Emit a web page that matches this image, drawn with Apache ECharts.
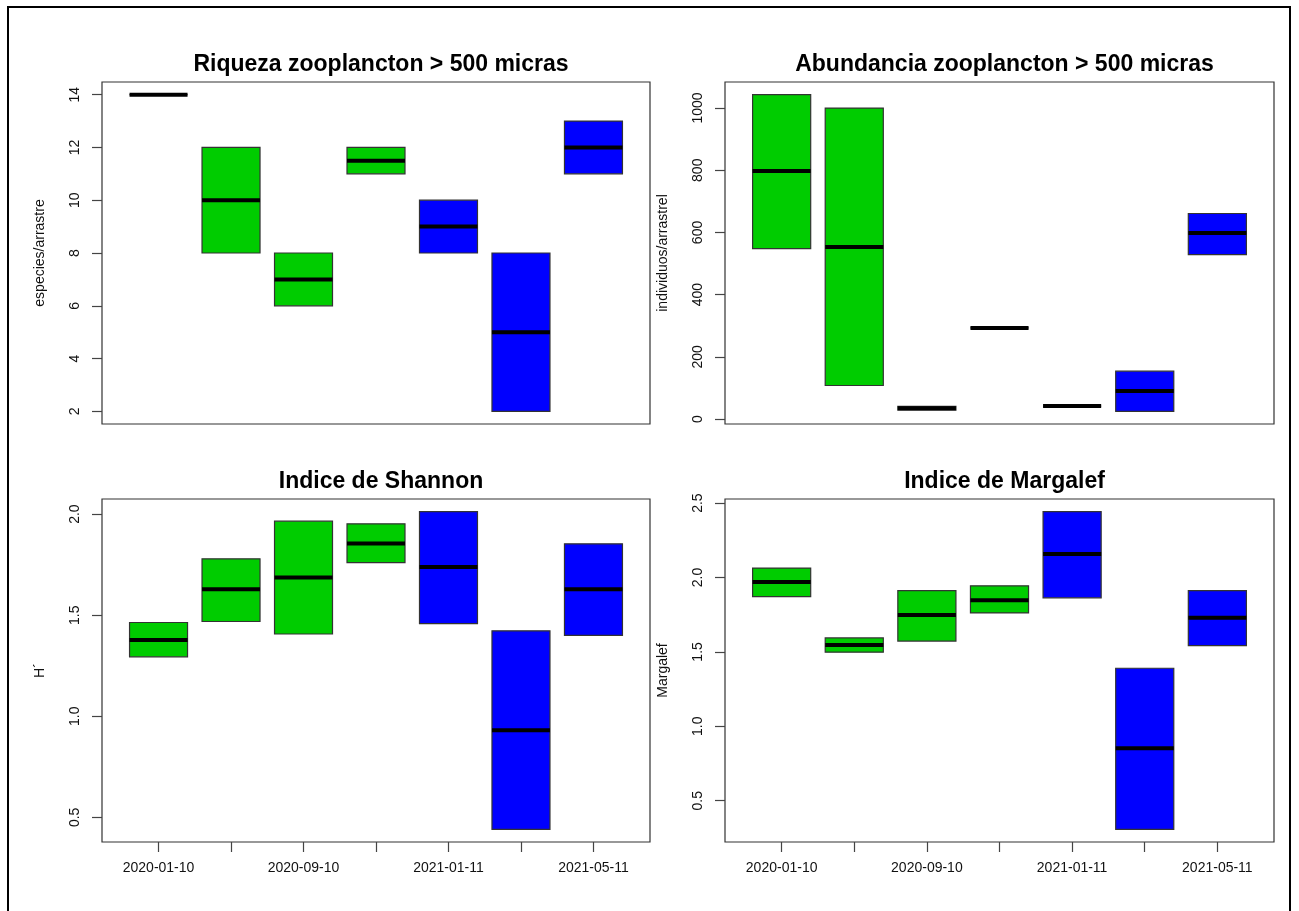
<!DOCTYPE html>
<html>
<head>
<meta charset="utf-8">
<script src="https://cdn.jsdelivr.net/npm/echarts@6/dist/echarts.min.js"></script>
<style>
  html, body { margin: 0; padding: 0; background: #fff; }
  #chart { width: 1299px; height: 911px; }
</style>
</head>
<body>
<div id="chart"></div>
<script>
// Sampling dates (only every other one is labelled on the axis)
const dateLabels = ['2020-01-10', '', '2020-09-10', '', '2021-01-11', '', '2021-05-11'];
const positions = [1, 2, 3, 4, 5, 6, 7];
const boxColors = ['#00CC00', '#00CC00', '#00CC00', '#00CC00', '#0000FF', '#0000FF', '#0000FF'];

// Riqueza (especies/arrastre): lower hinge, median, upper hinge
const riqLow  = [14, 8, 6, 11, 8, 2, 11];
const riqMed  = [14, 10, 7, 11.5, 9, 5, 12];
const riqHigh = [14, 12, 8, 12, 10, 8, 13];
const riqTicks = [2, 4, 6, 8, 10, 12, 14];

// Abundancia (individuos/arrastre)
const abuLow  = [548, 108, 29, 293, 42, 25, 529];
const abuMed  = [798, 553, 35, 293, 42, 90, 598];
const abuHigh = [1043, 1000, 41, 293, 42, 154, 661];
const abuTicks = [0, 200, 400, 600, 800, 1000];

// Indice de Shannon (H')
const shaLow  = [1.294, 1.469, 1.407, 1.760, 1.458, 0.441, 1.400];
const shaMed  = [1.377, 1.628, 1.686, 1.855, 1.739, 0.931, 1.628];
const shaHigh = [1.464, 1.779, 1.965, 1.952, 2.012, 1.423, 1.853];
const shaTicks = [0.5, 1.0, 1.5, 2.0];

// Indice de Margalef
const marLow  = [1.872, 1.498, 1.573, 1.762, 1.863, 0.308, 1.542];
const marMed  = [1.969, 1.547, 1.748, 1.847, 2.157, 0.853, 1.730];
const marHigh = [2.063, 1.594, 1.912, 1.944, 2.442, 1.390, 1.912];
const marTicks = [0.5, 1.0, 1.5, 2.0, 2.5];

const FONT = '"Liberation Sans", Arial, sans-serif';

const panels = [
  { title: 'Riqueza zooplancton > 500 micras', yName: 'especies/arrastre',
    low: riqLow, med: riqMed, high: riqHigh, ticks: riqTicks, dec: 0,
    grid: { left: 102, top: 82, width: 548, height: 342 }, xLabels: false },
  { title: 'Abundancia zooplancton > 500 micras', yName: 'individuos/arrastrel',
    low: abuLow, med: abuMed, high: abuHigh, ticks: abuTicks, dec: 0,
    grid: { left: 725, top: 82, width: 549, height: 342 }, xLabels: false },
  { title: 'Indice de Shannon', yName: 'H\u00b4',
    low: shaLow, med: shaMed, high: shaHigh, ticks: shaTicks, dec: 1,
    grid: { left: 102, top: 499, width: 548, height: 343 }, xLabels: true },
  { title: 'Indice de Margalef', yName: 'Margalef',
    low: marLow, med: marMed, high: marHigh, ticks: marTicks, dec: 1,
    grid: { left: 725, top: 499, width: 549, height: 343 }, xLabels: true }
];

// R-style axis range: data range widened by 4% on each side
function padRange(lo, hi) {
  const r = hi - lo;
  return [lo - 0.04 * r, hi + 0.04 * r];
}
const xRange = padRange(0.5, 7.5);

function renderBox(params, api) {
  const x = api.value(0);
  const pLo = api.coord([x, api.value(1)]);
  const pMd = api.coord([x, api.value(2)]);
  const pHi = api.coord([x, api.value(3)]);
  const w = api.size([0.8, 0])[0];
  const color = boxColors[params.dataIndex];
  return {
    type: 'group',
    children: [
      { type: 'rect',
        shape: { x: pHi[0] - w / 2, y: pHi[1], width: w, height: pLo[1] - pHi[1] },
        style: { fill: color, stroke: '#333', lineWidth: 1.2 } },
      { type: 'line',
        shape: { x1: pMd[0] - w / 2, y1: pMd[1], x2: pMd[0] + w / 2, y2: pMd[1] },
        style: { stroke: '#000', lineWidth: 4, lineCap: 'butt' } }
    ]
  };
}

const option = {
  backgroundColor: '#fff',
  animation: false,
  title: [], grid: [], xAxis: [], yAxis: [], series: [],
  graphic: [{
    type: 'rect', silent: true,
    shape: { x: 8, y: 7, width: 1282, height: 1000 },
    style: { fill: 'none', stroke: '#000', lineWidth: 2 }
  }]
};

panels.forEach((p, i) => {
  const g = p.grid;
  const yr = padRange(Math.min(...p.low), Math.max(...p.high));
  option.title.push({
    text: p.title,
    left: g.left + g.width / 2,
    top: g.top - 34,
    textAlign: 'center',
    textStyle: { fontFamily: FONT, fontSize: 23, fontWeight: 'bold', color: '#000', lineHeight: 24 }
  });
  option.grid.push({
    left: g.left, top: g.top, width: g.width, height: g.height,
    show: true, borderColor: '#333', borderWidth: 1.2, backgroundColor: 'transparent'
  });
  option.xAxis.push({
    type: 'value', gridIndex: i, min: xRange[0], max: xRange[1],
    axisLine: { show: false },
    splitLine: { show: false },
    axisTick: { show: p.xLabels, length: 10, customValues: positions,
                lineStyle: { color: '#444', width: 1.2 } },
    axisLabel: { show: p.xLabels, margin: 19, customValues: [1, 3, 5, 7],
                 formatter: v => dateLabels[Math.round(v) - 1] || '',
                 fontFamily: FONT, fontSize: 14, color: '#111' }
  });
  option.yAxis.push({
    type: 'value', gridIndex: i, min: yr[0], max: yr[1],
    name: p.yName, nameLocation: 'middle', nameGap: 55,
    nameTextStyle: { fontFamily: FONT, fontSize: 14, color: '#111' },
    axisLine: { show: false },
    splitLine: { show: false },
    axisTick: { show: true, length: 10, customValues: p.ticks,
                lineStyle: { color: '#444', width: 1.2 } },
    axisLabel: { show: true, rotate: 90, margin: 20, customValues: p.ticks,
                 formatter: v => Number(v).toFixed(p.dec),
                 fontFamily: FONT, fontSize: 14, color: '#111' }
  });
  option.series.push({
    type: 'custom', xAxisIndex: i, yAxisIndex: i,
    renderItem: renderBox,
    encode: { x: 0, y: [1, 2, 3] },
    data: positions.map((x, k) => [x, p.low[k], p.med[k], p.high[k]])
  });
});

const chart = echarts.init(document.getElementById('chart'), null, { renderer: 'canvas' });
chart.setOption(option);
</script>
</body>
</html>
